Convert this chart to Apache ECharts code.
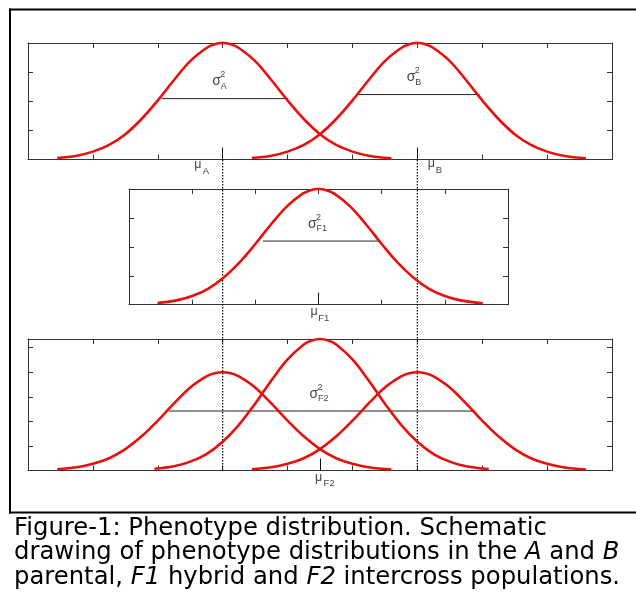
<!DOCTYPE html>
<html><head><meta charset="utf-8">
<script src="https://cdn.jsdelivr.net/npm/echarts@6/dist/echarts.min.js"></script>
<style>html,body{margin:0;padding:0;background:#fff}#c{width:636px;height:601px}</style>
</head><body><div id="c"></div>
<script>
// ---------------- data ----------------
// Top panel (parents A and B)
const xA = [0.45,0.75,1.0,1.25,1.5,1.75,2.0,2.25,2.5,2.75,2.875,3.0,3.125,3.25,3.5,3.75,4.0,4.25,4.5,4.75,5.0,5.25,5.6];
const yA = [0.05,0.13,0.27,0.50,0.87,1.39,2.03,2.73,3.38,3.83,3.96,4.00,3.96,3.83,3.38,2.73,2.03,1.39,0.87,0.50,0.27,0.13,0.04];
const xB = [3.45,3.75,4.0,4.25,4.5,4.75,5.0,5.25,5.5,5.75,5.875,6.0,6.125,6.25,6.5,6.75,7.0,7.25,7.5,7.75,8.0,8.25,8.6];
const yB = [0.05,0.13,0.27,0.50,0.87,1.39,2.03,2.73,3.38,3.83,3.96,4.00,3.96,3.83,3.38,2.73,2.03,1.39,0.87,0.50,0.27,0.13,0.04];
// Middle panel (F1)
const xF1 = [0.45,0.75,1.0,1.25,1.5,1.75,2.0,2.25,2.5,2.75,2.875,3.0,3.125,3.25,3.5,3.75,4.0,4.25,4.5,4.75,5.0,5.25,5.6];
const yF1 = [0.06,0.15,0.30,0.55,0.94,1.46,2.10,2.78,3.40,3.84,3.96,4.00,3.96,3.84,3.40,2.78,2.10,1.46,0.94,0.55,0.30,0.15,0.05];
// Bottom panel (F2): left, centre, right curves
const xF2L = [0.45,0.75,1.0,1.25,1.5,1.75,2.0,2.25,2.5,2.75,2.875,3.0,3.125,3.25,3.5,3.75,4.0,4.25,4.5,4.75,5.0,5.25,5.6];
const yF2L = [0.05,0.13,0.27,0.50,0.87,1.39,2.03,2.73,3.38,3.83,3.96,4.00,3.96,3.83,3.38,2.73,2.03,1.39,0.87,0.50,0.27,0.13,0.04];
const xF2C = [1.95,2.25,2.5,2.75,3.0,3.25,3.5,3.75,4.0,4.25,4.375,4.5,4.625,4.75,5.0,5.25,5.5,5.75,6.0,6.25,6.5,6.75,7.1];
const yF2C = [0.07,0.17,0.36,0.67,1.17,1.86,2.72,3.66,4.52,5.13,5.29,5.35,5.29,5.13,4.52,3.66,2.72,1.86,1.17,0.67,0.36,0.17,0.06];
const xF2R = [3.45,3.75,4.0,4.25,4.5,4.75,5.0,5.25,5.5,5.75,5.875,6.0,6.125,6.25,6.5,6.75,7.0,7.25,7.5,7.75,8.0,8.25,8.6];
const yF2R = [0.05,0.13,0.27,0.50,0.87,1.39,2.03,2.73,3.38,3.83,3.96,4.00,3.96,3.83,3.38,2.73,2.03,1.39,0.87,0.50,0.27,0.13,0.04];
// variance (width) lines: x extent and height
const sigAx = [2.06, 4.01];  const sigAy = 2.09;
const sigBx = [5.10, 6.96];  const sigBy = 2.23;
const sigF1x = [2.12, 3.96]; const sigF1y = 2.20;
const sigF2x = [2.17, 6.88]; const sigF2y = 2.42;
// means
const muTop = [3, 6];     // mu_A, mu_B
const muMid = [3];        // mu_F1
const muBot = [4.5];      // mu_F2
const dottedX = [3, 6];   // dotted guides at mu_A, mu_B
// axis ranges
const xMaxWide = 9, xMaxMid = 6;
const yMaxTop = 4, yMaxMid = 4, yMaxBot = 5.35;
// texts
const sigmaSubs = ['A', 'B', 'F1', 'F2'];
const muSubs = ['A', 'B', 'F1', 'F2'];
const captionLines = [
  'Figure-1: Phenotype distribution. Schematic',
  'drawing of phenotype distributions in the {i|A} and {i|B}',
  'parental, {i|F1} hybrid and {i|F2} intercross populations.'
];

// ---------------- chart ----------------
const AX = '#333';
const RED = '#ea0f0f';
const FONT = 'Liberation Sans, Arial, sans-serif';
const zip = (xs, ys) => xs.map((x, i) => [x, ys[i]]);

function xAxes(g, max, mu) {
  const base = {gridIndex: g, type: 'value', min: 0, max: max, interval: 1,
    axisLine: {show: true, onZero: false, lineStyle: {color: AX, width: 1}},
    axisTick: {show: true, inside: true, length: 5, lineStyle: {color: AX}},
    axisLabel: {show: false}, splitLine: {show: false}};
  return [
    Object.assign({}, base, {position: 'bottom'}),
    Object.assign({}, base, {position: 'top'}),
    {gridIndex: g, type: 'value', min: 0, max: max, position: 'bottom',
     axisLine: {show: false, onZero: false},
     axisTick: {show: true, inside: true, length: 12, customValues: mu, lineStyle: {color: '#111'}},
     axisLabel: {show: false}, splitLine: {show: false}}
  ];
}
function yAxes(g, max) {
  const base = {gridIndex: g, type: 'value', min: 0, max: max, interval: 1,
    axisLine: {show: true, onZero: false, lineStyle: {color: AX, width: 1}},
    axisTick: {show: true, inside: true, length: 5, lineStyle: {color: AX}},
    axisLabel: {show: false}, splitLine: {show: false}};
  return [Object.assign({}, base, {position: 'left'}), Object.assign({}, base, {position: 'right'})];
}
function curve(xs, ys, xi, yi) {
  return {type: 'line', xAxisIndex: xi, yAxisIndex: yi, data: zip(xs, ys), smooth: 0.4,
    showSymbol: false, clip: false, lineStyle: {color: RED, width: 2.6}, z: 5, silent: true};
}
function sigLine(xs, y, xi, yi) {
  return {type: 'line', xAxisIndex: xi, yAxisIndex: yi, data: xs.map(x => [x, y]),
    showSymbol: false, clip: false, lineStyle: {color: '#222', width: 1}, z: 4, silent: true};
}
function glyph(x, y, text, size, dx, dy) {
  return {value: [x, y], label: {show: true, position: 'inside', formatter: text, fontSize: size,
    fontFamily: FONT, color: '#111', offset: [dx, dy], align: 'left', verticalAlign: 'middle'}};
}
function sigmaGlyphs(x, y, sub) {
  return [glyph(x, y, 'σ', 14, -10.5, -17), glyph(x, y, '2', 9, -2.5, -24), glyph(x, y, sub, 9, -2, -12.5)];
}
function muGlyphs(x, sub, dxm, dym, dxs, dys) {
  return [glyph(x, 0, 'μ', 12.5, dxm, dym), glyph(x, 0, sub, 9.5, dxs, dys)];
}
function labels(data, xi, yi) {
  return {type: 'scatter', xAxisIndex: xi, yAxisIndex: yi, data: data, symbolSize: 1,
    itemStyle: {color: 'rgba(0,0,0,0)'}, z: 6, silent: true};
}

const xAxis = [].concat(xAxes(0, xMaxWide, muTop), xAxes(1, xMaxMid, muMid), xAxes(2, xMaxWide, muBot),
  [{gridIndex: 3, type: 'value', min: 0, max: xMaxWide, show: false}]);
const yAxis = [].concat(yAxes(0, yMaxTop), yAxes(1, yMaxMid), yAxes(2, yMaxBot),
  [{gridIndex: 3, type: 'value', min: 0, max: 1, show: false}]);

const series = [
  curve(xA, yA, 0, 0), curve(xB, yB, 0, 0),
  sigLine(sigAx, sigAy, 0, 0), sigLine(sigBx, sigBy, 0, 0),
  labels([].concat(sigmaGlyphs(muTop[0], sigAy, sigmaSubs[0]), sigmaGlyphs(muTop[1], sigBy, sigmaSubs[1]),
    muGlyphs(muTop[0], muSubs[0], -28.5, 5, -20, 12), muGlyphs(muTop[1], muSubs[1], 10.5, 4, 18.5, 10.5)), 0, 0),
  curve(xF1, yF1, 3, 2),
  sigLine(sigF1x, sigF1y, 3, 2),
  labels([].concat(sigmaGlyphs(muMid[0], sigF1y, sigmaSubs[2]),
    muGlyphs(muMid[0], muSubs[2], -8, 7, -0.3, 13.8)), 3, 2),
  curve(xF2L, yF2L, 6, 4), curve(xF2C, yF2C, 6, 4), curve(xF2R, yF2R, 6, 4),
  sigLine(sigF2x, sigF2y, 6, 4),
  labels([].concat(sigmaGlyphs(muBot[0], sigF2y, sigmaSubs[3]),
    muGlyphs(muBot[0], muSubs[3], -5, 7, 3.6, 13)), 6, 4)
].concat(dottedX.map(m => ({type: 'line', xAxisIndex: 9, yAxisIndex: 6, data: [[m, 0], [m, 1]],
  showSymbol: false, clip: false, silent: true, z: 3,
  lineStyle: {color: '#000', width: 1.2, type: [1.5, 1.5]}})));

const option = {
  animation: false,
  backgroundColor: '#fff',
  title: {
    left: 14, top: 516, padding: 0,
    text: captionLines.join('\n'),
    textStyle: {fontFamily: 'DejaVu Sans', fontSize: 24.3, fontWeight: 'normal', color: '#000', lineHeight: 24.7,
      rich: {i: {fontFamily: 'DejaVu Sans', fontStyle: 'italic', fontSize: 24.3, color: '#000', lineHeight: 24.7}}}
  },
  grid: [
    {left: 28, top: 43, width: 584, height: 116.5},
    {left: 129, top: 189, width: 379, height: 115.7},
    {left: 28, top: 339, width: 584, height: 131.5},
    {left: 28, top: 159.5, width: 584, height: 311}
  ],
  xAxis: xAxis,
  yAxis: yAxis,
  series: series,
  graphic: [
    {type: 'line', shape: {x1: 9, y1: 9.5, x2: 636, y2: 9.5}, style: {stroke: '#000', lineWidth: 2}},
    {type: 'line', shape: {x1: 10, y1: 8.5, x2: 10, y2: 513.5}, style: {stroke: '#000', lineWidth: 2}},
    {type: 'line', shape: {x1: 9, y1: 512.5, x2: 636, y2: 512.5}, style: {stroke: '#000', lineWidth: 2}}
  ]
};
const chart = echarts.init(document.getElementById('c'), null, {renderer: 'canvas'});
chart.setOption(option);
</script></body></html>
